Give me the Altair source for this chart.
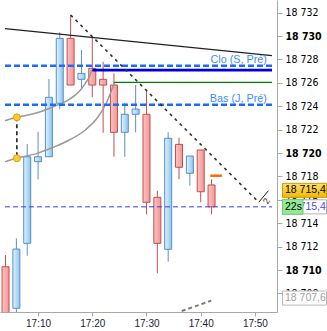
import altair as alt
import pandas as pd

# ---- candles (minutes after 17:00) ----
minutes = [4, 6, 8, 10, 12, 14, 16, 18, 20, 22, 24, 26, 28, 30, 32, 34, 36, 38, 40, 42]
opens = [18710.28, 18706.73, 18712.28, 18719.26, 18719.68, 18724.25, 18729.80, 18726.30, 18727.24, 18726.30,
         18725.81, 18721.77, 18723.31, 18723.31, 18716.21, 18711.77, 18720.74, 18718.27, 18720.26, 18717.27]
highs = [18711.28, 18712.71, 18720.77, 18721.82, 18726.33, 18730.32, 18731.80, 18728.80, 18729.94, 18727.80,
         18726.81, 18724.30, 18725.81, 18725.30, 18716.78, 18721.77, 18721.31, 18719.74, 18720.26, 18717.75]
lows = [18704.50, 18706.00, 18711.22, 18717.75, 18719.68, 18723.74, 18725.81, 18725.53, 18724.76, 18721.73,
        18719.68, 18719.68, 18721.77, 18714.76, 18709.72, 18710.71, 18717.75, 18717.21, 18715.79, 18714.76]
closes = [18705.00, 18711.79, 18719.68, 18719.68, 18724.76, 18729.80, 18725.81, 18726.81, 18725.81, 18725.81,
          18721.77, 18723.31, 18723.76, 18715.79, 18712.28, 18721.26, 18718.78, 18719.74, 18716.69, 18715.40]

# ---- horizontal levels ----
clo_level = 18727.46
bas_level = 18724.13
blue_level = 18727.09
blue_start = 20
green_level = 18726.04
green_start = 24
last_price = 18715.4
low_marker = 18707.6
orange_t = [41.77, 43.9]
orange_v = 18718.06

# ---- drawn objects ----
trend_t = [3.9, 53.15]
trend_v = [18730.64, 18728.33]
diag_t = [16.0, 50.71]
diag_v = [18731.80, 18715.79]
tag_t = [50.71, 52.49]
tag_v = [18715.79, 18716.78]
bottom_t = [36.49, 41.95]
bottom_v = [18706.49, 18707.38]
curve1_t = [3.9, 6.09, 9.82, 12.79, 15.76, 17.54, 18.71, 19.6, 19.9]
curve1_v = [18722.76, 18723.05, 18723.44, 18723.96, 18724.59, 18725.24, 18725.96, 18726.67, 18727.09]
curve2_t = [3.9, 6.09, 9.82, 12.79, 15.76, 18.71, 21.09, 22.57, 23.46, 24.05]
curve2_v = [18719.26, 18719.55, 18719.97, 18720.49, 18721.11, 18721.97, 18723.10, 18724.25, 18725.24, 18726.01]
dots_t = [6.09, 6.09]
dots_v = [18723.05, 18719.55]

T_MIN, T_MAX = 3.9, 53.15
V_MIN, V_MAX = 18706.41, 18733.08

FONT = "'DejaVu Sans Condensed', 'Liberation Sans', sans-serif"
LFONT = "'Liberation Sans', Arial, sans-serif"

cndl = pd.DataFrame(dict(t=minutes, o=opens, h=highs, l=lows, c=closes))

XS = alt.Scale(domain=[T_MIN, T_MAX], nice=False, zero=False)
YS = alt.Scale(domain=[V_MIN, V_MAX], nice=False, zero=False)

xaxis = alt.Axis(values=[10, 20, 30, 40, 50], labelExpr="'17:' + datum.value", title=None, grid=False,
                 domainColor="#a8a8a8", tickColor="#a8a8a8", tickSize=4, labelColor="#1c1c3c",
                 labelFont=LFONT, labelFontSize=10, labelPadding=2, labelFlush=False)
yaxis = alt.Axis(orient="right", values=list(range(18708, 18733, 2)),
                 labelExpr="replace(format(datum.value, ','), ',', ' ')",
                 labelFontWeight=alt.condition("datum.value % 10 === 0", alt.value("bold"), alt.value("normal")),
                 title=None, grid=False, domainColor="#a8a8a8", tickColor="#a8a8a8", tickSize=5,
                 labelColor="#000000", labelFont=FONT, labelFontSize=10.5, labelPadding=3, labelFlush=False)


def X(f):
    return alt.X(f, type="quantitative", scale=XS, axis=xaxis)


def Y(f):
    return alt.Y(f, type="quantitative", scale=YS, axis=yaxis)


blue_grad = alt.LinearGradient(gradient="linear", x1=0, x2=1, y1=0, y2=0,
                               stops=[alt.GradientStop(color="#e2f2ff", offset=0),
                                      alt.GradientStop(color="#8cc6f0", offset=1)])
red_grad = alt.LinearGradient(gradient="linear", x1=0, x2=1, y1=0, y2=0,
                              stops=[alt.GradientStop(color="#fcc4c4", offset=0),
                                     alt.GradientStop(color="#f29696", offset=1)])
gold_grad = alt.LinearGradient(gradient="linear", x1=0, x2=0, y1=0, y2=1,
                               stops=[alt.GradientStop(color="#ffe070", offset=0),
                                      alt.GradientStop(color="#f2b800", offset=1)])

base = alt.Chart(cndl)
up = "datum.c >= datum.o"
down = "datum.c < datum.o"
wick_up = base.transform_filter(up).mark_rule(color="#5b8fc5", strokeWidth=1, clip=True).encode(
    x=X("t"), y=Y("l"), y2="h")
wick_dn = base.transform_filter(down).mark_rule(color="#c0504d", strokeWidth=1, clip=True).encode(
    x=X("t"), y=Y("l"), y2="h")
body_up = base.transform_filter(up).mark_bar(size=7, fill=blue_grad, stroke="#5a8fc0", strokeWidth=1,
                                             clip=True).encode(x=X("t"), y=Y("o"), y2="c")
body_dn = base.transform_filter(down).mark_bar(size=7, fill=red_grad, stroke="#c0504d", strokeWidth=1,
                                               clip=True).encode(x=X("t"), y=Y("o"), y2="c")


def seg(t, v, **kw):
    df = pd.DataFrame(dict(t0=[t[0]], t1=[t[1]], v0=[v[0]], v1=[v[1]]))
    return alt.Chart(df).mark_rule(clip=True, **kw).encode(x=X("t0"), x2="t1", y=Y("v0"), y2="v1")


trend = seg(trend_t, trend_v, color="#202020", strokeWidth=1.2)
diag = seg(diag_t, diag_v, color="#303030", strokeWidth=1.6, strokeDash=[3, 4])
tag = seg(tag_t, tag_v, color="#202020", strokeWidth=1)
bottom = seg(bottom_t, bottom_v, color="#7a7a7a", strokeWidth=2, strokeDash=[4, 3])
clo = seg([T_MIN, T_MAX], [clo_level, clo_level], color="#1a6cff", strokeWidth=2.6, strokeDash=[6, 3])
bas = seg([T_MIN, T_MAX], [bas_level, bas_level], color="#1a6cff", strokeWidth=2.6, strokeDash=[6, 3])
blue = seg([blue_start, T_MAX], [blue_level, blue_level], color="#0000dd", strokeWidth=2.8)
green = seg([green_start, T_MAX], [green_level, green_level], color="#008000", strokeWidth=1.4)
price = seg([T_MIN, T_MAX], [last_price, last_price], color="#3a3aff", strokeWidth=1, strokeDash=[5, 3])
orange = seg(orange_t, [orange_v, orange_v], color="#ff6a00", strokeWidth=2.5)
vdash = seg(dots_t, dots_v, color="#000000", strokeWidth=1.4, strokeDash=[4, 3])

curves_df = pd.concat([
    pd.DataFrame(dict(t=curve1_t, v=curve1_v, k="a")),
    pd.DataFrame(dict(t=curve2_t, v=curve2_v, k="b")),
])
curves = alt.Chart(curves_df).mark_line(color="#9a9a9a", strokeWidth=1.5, interpolate="monotone",
                                        clip=True).encode(x=X("t"), y=Y("v"), detail="k:N")

dots = alt.Chart(pd.DataFrame(dict(t=dots_t, v=dots_v))).mark_point(
    shape="circle", size=48, filled=True, fill="#ffc933", stroke="#e0a000", strokeWidth=1, opacity=1
).encode(x=X("t"), y=Y("v"))

labels_df = pd.DataFrame(dict(t=[52.2, 52.2], v=[clo_level, bas_level], s=["Clo (S, Pré)", "Bas (J, Pré)"]))
labels = alt.Chart(labels_df).mark_text(align="right", baseline="alphabetic", dy=-2.6, font=LFONT,
                                        fontSize=10.8, color="#3d8cff").encode(
    x=X("t"), y=Y("v"), text="s:N")

tag_text = alt.Chart(pd.DataFrame(dict(t=[52.1], v=[18715.9], s=["2"]))).mark_text(
    font=LFONT, fontSize=9, angle=300, color="#303030").encode(x=X("t"), y=Y("v"), text="s:N")

# ---- right-side badges ----
badge_df = pd.DataFrame(dict(p=[last_price], s=["18 715,4"], g=["22s"]))
badge_base = alt.Chart(badge_df).transform_calculate(lo="datum.p - 0.6", hi="datum.p + 0.6")
blue_box = badge_base.mark_rect(fill="#ffffff", stroke="#b0b0b0", strokeWidth=1).encode(
    x=alt.value(282.5), x2=alt.value(326.5), y=Y("lo"), y2="hi")
blue_txt = badge_base.mark_text(align="left", baseline="middle", font=LFONT, fontSize=10.5,
                                color="#4a4aff").encode(x=alt.value(285), y=Y("p"), text="s:N")
green_box = badge_base.mark_rect(fill="#94ea94", stroke="#74c874", strokeWidth=1, yOffset=0.5,
                                 y2Offset=-0.5).encode(
    x=alt.value(282.5), x2=alt.value(303), y=Y("lo"), y2="hi")
green_txt = badge_base.mark_text(align="left", baseline="middle", font=LFONT, fontSize=10.5,
                                 color="#000000").encode(x=alt.value(285), y=Y("p"), text="g:N")
gold_box = badge_base.mark_rect(fill=gold_grad, stroke="#c89a00", strokeWidth=1, yOffset=-16.5,
                                y2Offset=-16.5).encode(
    x=alt.value(282.5), x2=alt.value(326.5), y=Y("lo"), y2="hi")
gold_txt = badge_base.mark_text(align="left", baseline="middle", font=LFONT, fontSize=10.5, yOffset=-16.5,
                                color="#000000").encode(x=alt.value(285), y=Y("p"), text="s:N")

low_df = pd.DataFrame(dict(p=[low_marker], s=["18 707,6"]))
low_base = alt.Chart(low_df).transform_calculate(lo="datum.p - 0.6", hi="datum.p + 0.6")
low_box = low_base.mark_rect(fill="#ffffff", stroke="#b8b8b8", strokeWidth=1).encode(
    x=alt.value(282.5), x2=alt.value(326.5), y=Y("lo"), y2="hi")
low_txt = low_base.mark_text(align="left", baseline="middle", font=LFONT, fontSize=10.5,
                             color="#a0a0a0").encode(x=alt.value(285), y=Y("p"), text="s:N")

chart = alt.layer(
    wick_up, wick_dn, body_up, body_dn,
    curves, clo, bas, blue, green, price, trend, diag, tag, bottom, orange, vdash, dots,
    labels, tag_text,
    blue_box, blue_txt, green_box, green_txt, gold_box, gold_txt, low_box, low_txt,
).properties(
    width=277, height=312,
    padding={"left": 0, "top": 0, "right": 50, "bottom": 19},
    autosize=alt.AutoSizeParams(type="none"),
    background="#ffffff",
).configure_view(stroke=None)

chart.save("out.html", embed_options={"renderer": "svg", "actions": False})
